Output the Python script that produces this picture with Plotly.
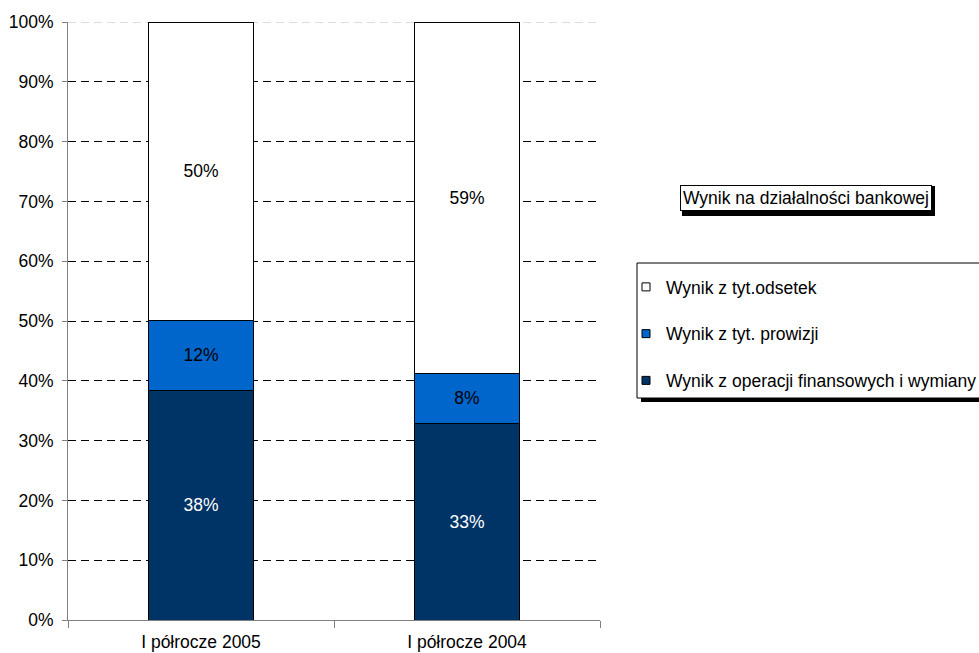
import plotly.graph_objects as go

categories = ["I półrocze 2005", "I półrocze 2004"]
series_names = ["Wynik z operacji finansowych i wymiany", "Wynik z tyt. prowizji", "Wynik z tyt.odsetek"]
val_operacje = [38.4, 32.9]
val_prowizje = [11.7, 8.3]
val_odsetki = [49.9, 58.8]
colors = ["#003366", "#0066CC", "#FFFFFF"]
text_colors = ["white", "black", "black"]
y_ticks = [0, 10, 20, 30, 40, 50, 60, 70, 80, 90, 100]
y_tick_labels = [f"{v}%" for v in y_ticks]
title_text = "Wynik na działalności bankowej"

FONT = "Liberation Sans, Arial, sans-serif"
FS = 17.5

fig = go.Figure()
for name, vals, col, tcol in zip(series_names, [val_operacje, val_prowizje, val_odsetki], colors, text_colors):
    fig.add_trace(go.Bar(
        x=categories, y=vals, name=name, width=0.396,
        marker=dict(color=col, line=dict(color="black", width=1)),
        texttemplate="%{y:.0f}%", textposition="inside", insidetextanchor="middle",
        textfont=dict(color=tcol, size=FS, family=FONT),
        showlegend=False, hoverinfo="skip",
    ))

for i, (name, col) in enumerate(zip(series_names[::-1], colors[::-1])):
    fig.add_trace(go.Scatter(
        x=[None], y=[None], mode="markers", name=name, legendgroup=f"g{i}",
        marker=dict(symbol="square", size=8, color=col, line=dict(color="black", width=1)),
    ))

W, H = 979, 653
L, R, T, B = 68, 379, 22, 33
pw, ph = W - L - R, H - T - B

def px(x):
    return (x - L) / pw

def py(y):
    return (H - B - y) / ph

shapes = [
    dict(type="line", xref="paper", yref="y", x0=0, x1=1, y0=100, y1=100,
         line=dict(color="#BBBBBB", width=1, dash="8px,5px"), layer="below"),
    dict(type="rect", xref="paper", yref="paper", x0=px(641), x1=px(1000), y0=py(267), y1=py(402),
         fillcolor="black", line=dict(width=0), layer="above"),
    dict(type="rect", xref="paper", yref="paper", x0=px(637), x1=px(995), y0=py(263), y1=py(398),
         fillcolor="white", line=dict(color="black", width=1), layer="above"),
    dict(type="rect", xref="paper", yref="paper", x0=px(682), x1=px(935), y0=py(186), y1=py(216),
         fillcolor="black", line=dict(width=0), layer="above"),
]

fig.update_layout(
    width=W, height=H,
    margin=dict(l=L, r=R, t=T, b=B, autoexpand=False),
    paper_bgcolor="white", plot_bgcolor="white",
    barmode="stack",
    font=dict(family=FONT, size=FS, color="black"),
    shapes=shapes,
    annotations=[dict(
        text=title_text, xref="paper", yref="paper",
        x=px(805.5), y=py(198), xanchor="center", yanchor="middle",
        showarrow=False, font=dict(size=FS, family=FONT, color="black"),
        bgcolor="white", bordercolor="black", borderwidth=1, borderpad=2,
    )],
    legend=dict(
        x=px(626), y=py(269), xanchor="left", yanchor="top",
        bgcolor="rgba(0,0,0,0)", borderwidth=0,
        font=dict(size=FS, family=FONT, color="black"),
        traceorder="grouped", tracegroupgap=21,
    ),
    xaxis=dict(
        type="category", showline=True, linecolor="#808080", linewidth=1,
        ticks="outside", tickson="boundaries", ticklen=7, tickcolor="#808080",
        showgrid=False, tickfont=dict(size=FS, family=FONT, color="black"),
        ticklabelstandoff=6, automargin=False, fixedrange=True,
    ),
    yaxis=dict(
        range=[0, 100], tickvals=y_ticks, ticktext=y_tick_labels,
        showline=True, linecolor="#808080", linewidth=1,
        ticks="outside", ticklen=5, tickcolor="#808080",
        showgrid=False, zeroline=False, automargin=False, fixedrange=True,
        ticklabelstandoff=5,
        tickfont=dict(size=FS, family=FONT, color="black"),
        minor=dict(tickvals=y_ticks[1:-1], showgrid=True, gridcolor="black",
                   griddash="8px,5px", gridwidth=1, ticks=""),
    ),
)

fig.write_html("out.html", config={"displayModeBar": False},
               post_script="document.body.style.margin='0';document.body.style.padding='0';")
